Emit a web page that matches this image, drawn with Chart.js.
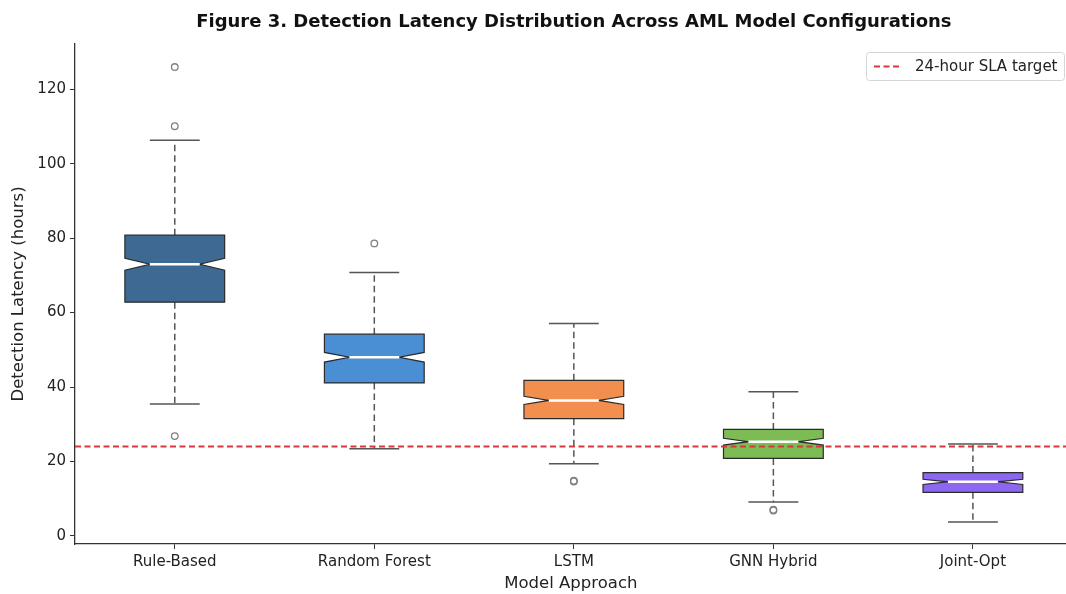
<!DOCTYPE html>
<html>
<head>
<meta charset="utf-8">
<script src="https://cdn.jsdelivr.net/npm/chart.js@4/dist/chart.umd.min.js"></script>
<style>
  body { margin: 0; background: #fff; overflow: hidden; }
  #wrap { width: 1066px; height: 594px; overflow: hidden; }
</style>
</head>
<body>
<div id="wrap"><canvas id="plot" width="1072" height="594"></canvas></div>
<script>
// data (hours)
var categories  = ['Rule-Based', 'Random Forest', 'LSTM', 'GNN Hybrid', 'Joint-Opt'];
var whiskerLow  = [35.4, 23.4, 19.4, 9.1, 3.7];
var q1          = [62.8, 41.1, 31.5, 20.8, 11.7];
var median      = [73.0, 48.0, 36.4, 25.3, 14.5];
var q3          = [80.8, 54.2, 41.8, 28.6, 17.0];
var whiskerHigh = [106.3, 70.8, 57.1, 38.7, 24.7];
var notchHalf   = [1.6, 1.3, 1.1, 0.9, 0.7];
var outliers    = [[126.0, 110.1, 26.8], [78.6], [14.8, 14.6], [7.0, 6.8], []];
var boxColors   = ['#3d6993', '#4a8ed4', '#f28f4e', '#7dbb55', '#8c67ef'];
var slaTarget   = 24;
var yTicks      = [0, 20, 40, 60, 80, 100, 120];

var FONT = "'DejaVu Sans', sans-serif";

var outlierPts = [];
outliers.forEach(function(list, i){
    list.forEach(function(v){ outlierPts.push({x: i, y: v}); });
});

// notched boxes + whiskers, drawn through the chart scales
var boxPlugin = {
    id: 'boxes',
    beforeDatasetsDraw: function(chart){
        var ctx = chart.ctx, xs = chart.scales.x, ys = chart.scales.y;
        var half = 0.25, capHalf = 0.125;
        ctx.save();
        for (var i = 0; i < categories.length; i++) {
            var xc = xs.getPixelForValue(i);
            var xl = xs.getPixelForValue(i - half), xr = xs.getPixelForValue(i + half);
            var inset = (xr - xl) / 4;
            var yq1 = ys.getPixelForValue(q1[i]), yq3 = ys.getPixelForValue(q3[i]);
            var ym = ys.getPixelForValue(median[i]);
            var nLo = ys.getPixelForValue(median[i] - notchHalf[i]);
            var nHi = ys.getPixelForValue(median[i] + notchHalf[i]);
            var yLo = ys.getPixelForValue(whiskerLow[i]), yHi = ys.getPixelForValue(whiskerHigh[i]);
            var cl = xs.getPixelForValue(i - capHalf), cr = xs.getPixelForValue(i + capHalf);

            // whiskers
            ctx.strokeStyle = '#555';
            ctx.lineWidth = 1.5;
            ctx.setLineDash([6.5, 4]);
            ctx.beginPath();
            ctx.moveTo(xc, yq1); ctx.lineTo(xc, yLo);
            ctx.moveTo(xc, yq3); ctx.lineTo(xc, yHi);
            ctx.stroke();
            ctx.setLineDash([]);
            ctx.beginPath();
            ctx.moveTo(cl, yLo); ctx.lineTo(cr, yLo);
            ctx.moveTo(cl, yHi); ctx.lineTo(cr, yHi);
            ctx.stroke();

            // notched box
            ctx.beginPath();
            ctx.moveTo(xl, yq1);
            ctx.lineTo(xr, yq1);
            ctx.lineTo(xr, nLo);
            ctx.lineTo(xr - inset, ym);
            ctx.lineTo(xr, nHi);
            ctx.lineTo(xr, yq3);
            ctx.lineTo(xl, yq3);
            ctx.lineTo(xl, nHi);
            ctx.lineTo(xl + inset, ym);
            ctx.lineTo(xl, nLo);
            ctx.closePath();
            ctx.fillStyle = boxColors[i];
            ctx.fill();
            ctx.strokeStyle = '#2b2b2b';
            ctx.lineWidth = 1.2;
            ctx.stroke();

            // median
            ctx.strokeStyle = '#ffffff';
            ctx.lineWidth = 2.5;
            ctx.beginPath();
            ctx.moveTo(xl + inset, ym); ctx.lineTo(xr - inset, ym);
            ctx.stroke();
        }
        ctx.restore();
    },
    afterDraw: function(chart){
        var ctx = chart.ctx, area = chart.chartArea, xs = chart.scales.x;
        ctx.save();
        // title, centred over the axes
        ctx.fillStyle = '#111';
        ctx.font = 'bold 18px ' + FONT;
        ctx.textAlign = 'center';
        ctx.textBaseline = 'middle';
        ctx.fillText('Figure 3. Detection Latency Distribution Across AML Model Configurations',
                     xs.getPixelForValue(2), 22);

        // legend box, top right of the visible axes
        var w = 198, h = 28;
        var lx = 1064 - w, ly = area.top + 8;
        ctx.fillStyle = 'rgba(255,255,255,0.85)';
        ctx.strokeStyle = '#d6d6d6';
        ctx.lineWidth = 1;
        ctx.beginPath();
        ctx.roundRect(lx + 0.5, ly + 0.5, w, h, 3);
        ctx.fill();
        ctx.stroke();
        ctx.strokeStyle = '#d9363e';
        ctx.lineWidth = 2;
        ctx.setLineDash([6, 3.5]);
        ctx.beginPath();
        ctx.moveTo(lx + 8, ly + h / 2 + 0.5);
        ctx.lineTo(lx + 36, ly + h / 2 + 0.5);
        ctx.stroke();
        ctx.setLineDash([]);
        ctx.fillStyle = '#222';
        ctx.font = '15px ' + FONT;
        ctx.textAlign = 'left';
        ctx.fillText('24-hour SLA target', lx + 49, ly + h / 2 + 1);
        ctx.restore();
    }
};

var ctx = document.getElementById('plot').getContext('2d');
var chart = new Chart(ctx, {
    type: 'scatter',
    data: {
        datasets: [{
            label: '24-hour SLA target',
            type: 'line',
            data: [{x: -0.5, y: slaTarget}, {x: 4.47, y: slaTarget}],
            borderColor: '#d9363e',
            borderWidth: 2,
            borderDash: [6, 3.5],
            pointRadius: 0,
            fill: false
        }, {
            label: 'outliers',
            data: outlierPts,
            pointStyle: 'circle',
            pointRadius: 3.3,
            pointBorderWidth: 1.3,
            borderColor: '#808080',
            backgroundColor: 'rgba(255,255,255,0)'
        }]
    },
    options: {
        responsive: false,
        animation: false,
        layout: { padding: { top: 44, right: 0, left: 0, bottom: 0 } },
        plugins: {
            legend: { display: false },
            title: { display: false },
            tooltip: { enabled: false }
        },
        scales: {
            x: {
                type: 'linear',
                min: -0.5,
                max: 4.47,
                afterBuildTicks: function(s){
                    s.ticks = categories.map(function(c, i){ return {value: i}; });
                },
                afterFit: function(s){ s.height = 50; },
                ticks: {
                    callback: function(v){ return categories[v]; },
                    color: '#222',
                    font: { family: FONT, size: 15 },
                    padding: 4,
                    maxRotation: 0
                },
                grid: { display: true, drawOnChartArea: false, drawTicks: true, tickLength: 5, color: '#333', lineWidth: 1 },
                border: { display: true, color: '#333', width: 1.3 },
                title: { display: true, text: 'Model Approach', color: '#222', font: { family: FONT, size: 16.5 }, padding: { top: 0, bottom: 0 } }
            },
            y: {
                min: -2.2,
                max: 132.2,
                afterBuildTicks: function(s){
                    s.ticks = yTicks.map(function(v){ return {value: v}; });
                },
                afterFit: function(s){ s.width = 75; },
                ticks: {
                    color: '#222',
                    font: { family: FONT, size: 15 },
                    padding: 4
                },
                grid: { display: true, drawOnChartArea: false, drawTicks: true, tickLength: 5, color: '#333', lineWidth: 1 },
                border: { display: true, color: '#333', width: 1.3 },
                title: { display: true, text: 'Detection Latency (hours)', color: '#222', font: { family: FONT, size: 16.5 }, padding: { top: 9, bottom: 4 } }
            }
        }
    },
    plugins: [boxPlugin]
});
</script>
</body>
</html>
